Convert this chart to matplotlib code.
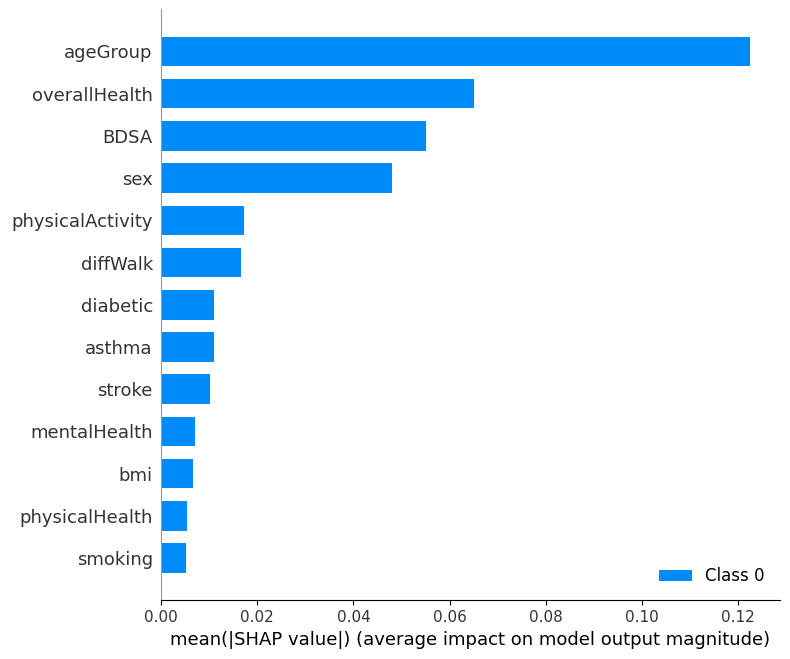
#!/usr/bin/env python

import numpy as np
import matplotlib
matplotlib.use("Agg")
import matplotlib.pyplot as plt

# mean |SHAP| per feature, top to bottom as shown
features = ["ageGroup", "overallHealth", "BDSA", "sex", "physicalActivity",
            "diffWalk", "diabetic", "asthma", "stroke", "mentalHealth",
            "bmi", "physicalHealth", "smoking"]
mean_shap = [0.1225, 0.0650, 0.0551, 0.0480, 0.0172,
             0.0166, 0.0110, 0.0110, 0.0102, 0.0071,
             0.0066, 0.0054, 0.0052]

xticks = [0.00, 0.02, 0.04, 0.06, 0.08, 0.10, 0.12]


def shap_bar_plot(features, values):
    """Grafica tipo shap summary_plot(plot_type='bar')"""
    fig = plt.figure(figsize=(7.9, 6.59), dpi=100)
    ax = fig.add_axes([0.204, 0.089, 0.783, 0.897])

    n = len(features)
    y_pos = np.arange(n)[::-1]
    ax.barh(y_pos, values, height=0.7, color="#008bfb", label="Class 0")

    ax.set_yticks(y_pos)
    ax.set_yticklabels(features, fontsize=13, color="#333333")
    ax.tick_params(axis="y", length=0, pad=6)
    ax.set_ylim(-1, n)

    ax.set_xticks(xticks)
    ax.set_xticklabels([f"{t:.2f}" for t in xticks], fontsize=11, color="#333333")
    ax.set_xlim(0, 0.1287)
    ax.set_xlabel("mean(|SHAP value|) (average impact on model output magnitude)",
                  fontsize=13)

    ax.spines["top"].set_visible(False)
    ax.spines["right"].set_visible(False)
    ax.spines["left"].set_color("#999999")

    ax.legend(loc="lower right", frameon=False, fontsize=12)
    fig.savefig("out.png", dpi=100)


def main():
    shap_bar_plot(features, mean_shap)


if __name__ == "__main__":
    main()
